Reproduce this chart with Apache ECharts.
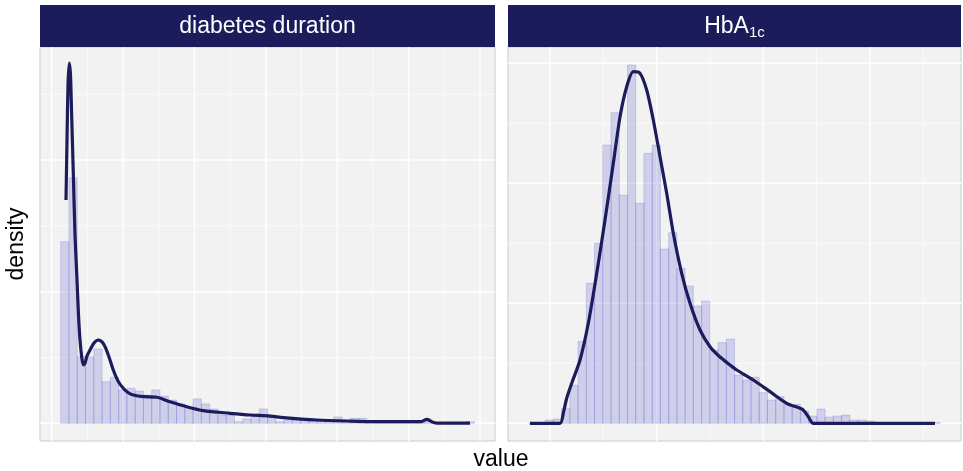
<!DOCTYPE html>
<html>
<head>
<meta charset="utf-8">
<script src="https://cdn.jsdelivr.net/npm/echarts@6/dist/echarts.min.js"></script>
<style>
  html, body { margin: 0; padding: 0; background: #ffffff; }
  #chart { width: 963px; height: 471px; }
</style>
</head>
<body>
<div id="chart"></div>
<script>
// Facet titles
const facetTitles = ['diabetes duration', '{main|HbA}{sub|1c}'];
const xTitle = 'value';
const yTitle = 'density';

// Diabetes duration (years): 50-bin histogram heights (density scale)
const durationBinStart = 1.27;
const durationBinWidth = 1.159;
const durationHist = [
  0.1380, 0.1866, 0.0506, 0.0504, 0.0565, 0.0316, 0.0350, 0.0253, 0.0266, 0.0245,
  0.0215, 0.0253, 0.0207, 0.0177, 0.0147, 0.0126, 0.0185, 0.0147, 0.0109, 0.0063,
  0.0063, 0.0012, 0.0033, 0.0071, 0.0109, 0.0063, 0.0012, 0.0025, 0.0025, 0.0023,
  0.0019, 0.0019, 0.0015, 0.0048, 0.0008, 0.0038, 0.0038, 0.0006, 0.0004, 0.0004,
  0.0004, 0.0004, 0.0004, 0.0002, 0.0015, 0.0002, 0.0002, 0.0000, 0.0000, 0.0012
];
// Diabetes duration: kernel density estimate
const durationDensityX = [
  2.017, 2.157, 2.297, 2.479, 2.647, 2.787, 3.039, 3.277, 3.515, 3.768,
  3.978, 4.216, 4.440, 4.678, 4.958, 5.378, 5.938, 6.541, 7.059, 7.479,
  8.039, 8.641, 9.300, 10.042, 10.700, 11.443, 12.843, 14.720, 16.583, 18.922,
  21.247, 24.986, 27.787, 30.588, 32.451, 37.129, 41.793, 46.457, 51.134, 51.877,
  52.535, 52.857, 53.235, 53.936, 58.599
];
const durationDensityY = [
  0.1697, 0.2153, 0.2571, 0.2736, 0.2647, 0.2381, 0.1902, 0.1431, 0.1143, 0.0823,
  0.0633, 0.0504, 0.0443, 0.0458, 0.0511, 0.0557, 0.0610, 0.0633, 0.0618, 0.0582,
  0.0504, 0.0405, 0.0322, 0.0266, 0.0234, 0.0215, 0.0202, 0.0198, 0.0164, 0.0126,
  0.0096, 0.0076, 0.0063, 0.0055, 0.0043, 0.0025, 0.0017, 0.0012, 0.0012, 0.0014,
  0.0030, 0.0025, 0.0012, 0.0002, 0.0002
];

// HbA1c (%): 50-bin histogram heights (density scale)
const hba1cBinStart = 5.6;
const hba1cBinWidth = 0.1544;
const hba1cHist = [
  0.0000, 0.0005, 0.0055, 0.0072, 0.0250, 0.0638, 0.1362, 0.2333, 0.3000, 0.4638,
  0.5178, 0.3805, 0.5972, 0.3667, 0.4500, 0.4638, 0.2905, 0.3178, 0.2583, 0.2288,
  0.1955, 0.2038, 0.1222, 0.1345, 0.1405, 0.0805, 0.0722, 0.0767, 0.0512, 0.0388,
  0.0445, 0.0317, 0.0317, 0.0205, 0.0122, 0.0238, 0.0105, 0.0122, 0.0138, 0.0055,
  0.0055, 0.0038, 0.0013, 0.0000, 0.0000, 0.0000, 0.0000, 0.0000, 0.0000, 0.0012
];
// HbA1c: kernel density estimate
const hba1cDensityX = [
  5.625, 6.188, 6.249, 6.313, 6.407, 6.563, 6.718, 6.876, 7.031, 7.187,
  7.313, 7.438, 7.562, 7.688, 7.813, 7.937, 8.063, 8.188, 8.312, 8.469,
  8.625, 8.813, 9.000, 9.188, 9.375, 9.501, 9.812, 10.125, 10.438, 10.688,
  10.750, 10.844, 10.938, 13.219
];
const hba1cDensityY = [
  0.0000, 0.0000, 0.0167, 0.0417, 0.0667, 0.1055, 0.1667, 0.2500, 0.3388, 0.4333,
  0.5110, 0.5610, 0.5860, 0.5833, 0.5555, 0.5055, 0.4443, 0.3833, 0.3167, 0.2500,
  0.2000, 0.1555, 0.1277, 0.1105, 0.0972, 0.0888, 0.0722, 0.0527, 0.0333, 0.0250,
  0.0220, 0.0110, 0.0000, 0.0000
];

// Panel grid breaks
const durationBreaksX = [0, 10, 20, 30, 40, 50, 60];
const durationMinorX = [5, 15, 25, 35, 45, 55];
const durationBreaksY = [0, 0.1, 0.2];
const durationMinorY = [0.05, 0.15, 0.25];
const hba1cBreaksX = [6, 8, 10, 12];
const hba1cMinorX = [7, 9, 11, 13];
const hba1cBreaksY = [0, 0.2, 0.4, 0.6];
const hba1cMinorY = [0.1, 0.3, 0.5];

const NAVY = '#1c1b5c';
const PANEL_BG = '#f2f2f2';
const FONT = '"Liberation Sans", Arial, Helvetica, sans-serif';
const TITLE_SIZE = 23;

const panels = [
  { left: 40, width: 455, xMin: -1.625, xMax: 62.1, yMin: -0.01345, yMax: 0.2859,
    binStart: durationBinStart, binWidth: durationBinWidth, hist: durationHist,
    dx: durationDensityX, dy: durationDensityY,
    majX: durationBreaksX, minX: durationMinorX, majY: durationBreaksY, minY: durationMinorY },
  { left: 508, width: 453, xMin: 5.2125, xMax: 13.706, yMin: -0.0295, yMax: 0.6272,
    binStart: hba1cBinStart, binWidth: hba1cBinWidth, hist: hba1cHist,
    dx: hba1cDensityX, dy: hba1cDensityY,
    majX: hba1cBreaksX, minX: hba1cMinorX, majY: hba1cBreaksY, minY: hba1cMinorY }
];
const PANEL_TOP = 47, PANEL_H = 394;

function vLine(params, api) {
  const cs = params.coordSys;
  const x = api.coord([api.value(0), 0])[0];
  return {
    type: 'line', silent: true,
    shape: { x1: x, y1: cs.y, x2: x, y2: cs.y + cs.height },
    style: { stroke: '#ffffff', lineWidth: api.value(1) ? 1.4 : 0.7 }
  };
}
function hLine(params, api) {
  const cs = params.coordSys;
  const xs = cs.x;
  const y = api.coord([api.value(1), api.value(0)])[1];
  return {
    type: 'line', silent: true,
    shape: { x1: xs, y1: y, x2: xs + cs.width, y2: y },
    style: { stroke: '#ffffff', lineWidth: api.value(2) ? 1.4 : 0.7 }
  };
}
function barRect(params, api) {
  const p0 = api.coord([api.value(0), api.value(2)]);
  const p1 = api.coord([api.value(1), 0]);
  return {
    type: 'rect',
    shape: { x: p0[0], y: p0[1], width: p1[0] - p0[0], height: p1[1] - p0[1] },
    style: { fill: 'rgba(80, 80, 200, 0.22)', stroke: 'rgba(90, 90, 215, 0.32)', lineWidth: 0.7 }
  };
}

const grid = [], xAxis = [], yAxis = [], series = [], graphic = [];
panels.forEach((p, i) => {
  grid.push({ left: p.left, top: PANEL_TOP, width: p.width, height: PANEL_H,
    show: true, backgroundColor: PANEL_BG, borderColor: '#cbcbcb', borderWidth: 1 });
  xAxis.push({ gridIndex: i, type: 'value', min: p.xMin, max: p.xMax, show: false });
  yAxis.push({ gridIndex: i, type: 'value', min: p.yMin, max: p.yMax, show: false });

  const vData = p.minX.map(v => [v, 0]).concat(p.majX.map(v => [v, 1]));
  const hData = p.minY.map(v => [v, p.xMin, 0]).concat(p.majY.map(v => [v, p.xMin, 1]));
  series.push({ type: 'custom', xAxisIndex: i, yAxisIndex: i, renderItem: vLine,
    data: vData, encode: { x: 0 }, z: 1, silent: true, animation: false });
  series.push({ type: 'custom', xAxisIndex: i, yAxisIndex: i, renderItem: hLine,
    data: hData, encode: { y: 0 }, z: 1, silent: true, animation: false });

  const bars = p.hist.map((h, k) => [p.binStart + k * p.binWidth, p.binStart + (k + 1) * p.binWidth, h]);
  series.push({ type: 'custom', xAxisIndex: i, yAxisIndex: i, renderItem: barRect,
    data: bars, encode: { x: [0, 1], y: 2 }, z: 2, silent: true, animation: false });

  series.push({ type: 'line', xAxisIndex: i, yAxisIndex: i, z: 3,
    data: p.dx.map((x, k) => [x, p.dy[k]]), showSymbol: false, smooth: 0.25,
    lineStyle: { color: NAVY, width: 3.2, cap: 'butt', join: 'round' },
    silent: true, animation: false });

  graphic.push({ type: 'rect', silent: true,
    shape: { x: p.left, y: 5, width: p.width, height: 42 }, style: { fill: NAVY } });
  graphic.push({ type: 'text', silent: true, x: p.left + p.width / 2, y: 27,
    style: {
      text: facetTitles[i], fill: '#ffffff', font: TITLE_SIZE + 'px ' + FONT,
      align: 'center', verticalAlign: 'middle',
      rich: {
        main: { fontSize: TITLE_SIZE, fontFamily: FONT, fill: '#ffffff', lineHeight: 26 },
        sub: { fontSize: 15, fontFamily: FONT, fill: '#ffffff', lineHeight: 8, verticalAlign: 'bottom' }
      }
    } });
});

graphic.push({ type: 'text', silent: true, x: 501, y: 460,
  style: { text: xTitle, fill: '#000000', font: TITLE_SIZE + 'px ' + FONT, align: 'center', verticalAlign: 'middle' } });
graphic.push({ type: 'text', silent: true, x: 17, y: 244, rotation: Math.PI / 2,
  style: { text: yTitle, fill: '#000000', font: TITLE_SIZE + 'px ' + FONT, align: 'center', verticalAlign: 'middle' } });

const chart = echarts.init(document.getElementById('chart'), null, { renderer: 'canvas' });
chart.setOption({
  animation: false,
  backgroundColor: '#ffffff',
  grid, xAxis, yAxis, series, graphic
});
</script>
</body>
</html>
